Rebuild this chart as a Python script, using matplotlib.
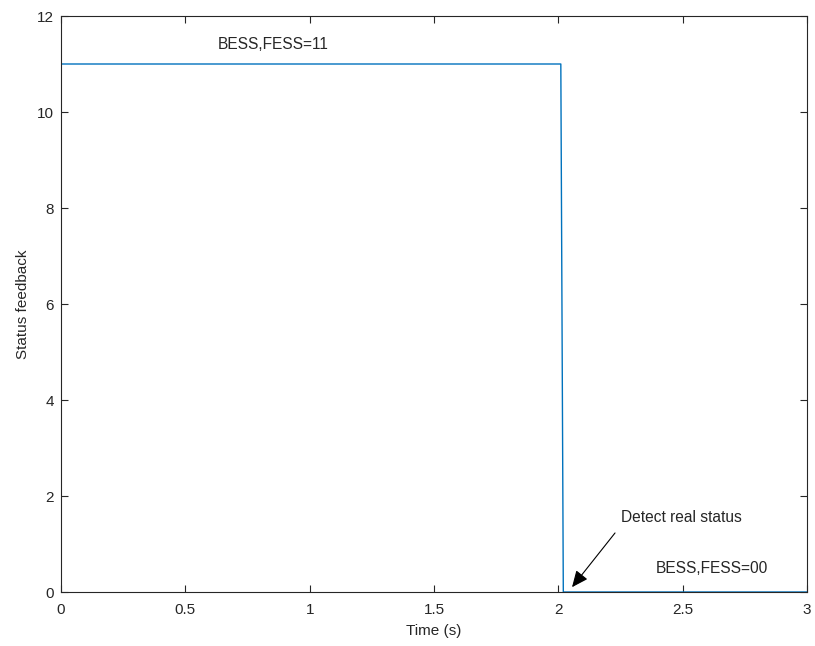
import matplotlib
matplotlib.use("Agg")
import matplotlib.pyplot as plt

plt.rcParams['font.family'] = ['Liberation Sans', 'DejaVu Sans']

t = [0.0, 2.01, 2.02, 3.0]
status = [11, 11, 0, 0]
xticks = [0, 0.5, 1, 1.5, 2, 2.5, 3]
xticklabels = ['0', '0.5', '1', '1.5', '2', '2.5', '3']
yticks = [0, 2, 4, 6, 8, 10, 12]

W, H = 815, 646
L, R, T, B = 61, 807, 16, 592
fig = plt.figure(figsize=(W / 100, H / 100), dpi=100)
ax = fig.add_axes([L / W, (H - B) / H, (R - L) / W, (B - T) / H])
ax.plot(t, status, color='#0072BD', lw=1.0)
ax.set_xlim(0, 3)
ax.set_ylim(0, 12)
ax.set_xticks(xticks)
ax.set_xticklabels(xticklabels)
ax.set_yticks(yticks)
ax.tick_params(direction='in', top=True, right=True, length=5, width=0.8,
               colors='#262626', labelsize=11, labelcolor='#262626', pad=5)
ax.tick_params(axis='x', pad=8)
for s in ax.spines.values():
    s.set_color('#262626')
    s.set_linewidth(0.8)
ax.set_xlabel('Time (s)', fontsize=11, color='#262626', labelpad=5)
ax.set_ylabel('Status feedback', fontsize=11, color='#262626', labelpad=5)

ax.text(0.852, 11.40, 'BESS,FESS=11', ha='center', va='center', fontsize=11.2, color='#262626')
ax.text(2.618, 0.48, 'BESS,FESS=00', ha='center', va='center', fontsize=11.2, color='#262626')
ax.text(2.493, 1.56, 'Detect real status', ha='center', va='center', fontsize=11.2, color='#262626')
ax.annotate('', xy=(2.055, 0.10), xytext=(2.228, 1.23),
            arrowprops=dict(arrowstyle='-|>,head_length=0.5,head_width=0.22', color='black', lw=0.8,
                            mutation_scale=20, shrinkA=0, shrinkB=0))
fig.savefig('out.png', dpi=100)
